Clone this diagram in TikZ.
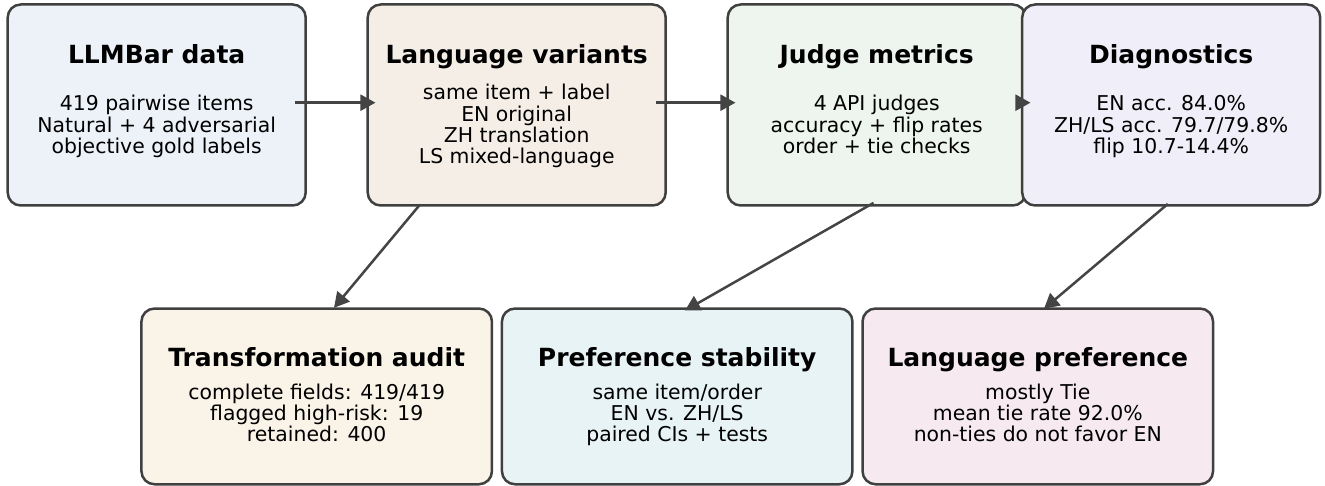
\documentclass[tikz,border=0pt]{standalone}
\usepackage{fontspec}
\setmainfont{DejaVu Sans}
\usetikzlibrary{arrows.meta,calc}
\definecolor{bdr}{HTML}{404040}
\definecolor{arrc}{HTML}{444444}
\definecolor{cA}{HTML}{EDF2F9}
\definecolor{cB}{HTML}{F5EEE7}
\definecolor{cC}{HTML}{EEF5EE}
\definecolor{cD}{HTML}{F0EEF8}
\definecolor{cE}{HTML}{F9F3E8}
\definecolor{cF}{HTML}{E8F3F5}
\definecolor{cG}{HTML}{F6EAF0}
\tikzset{
  box/.style={draw=bdr, line width=2.5pt, rounded corners=13pt, inner sep=0pt},
  topbox/.style={box, minimum width=298pt, minimum height=201pt},
  botbox/.style={box, minimum width=350.5pt, minimum height=175.7pt},
  ttl/.style={font=\fontsize{25}{30}\selectfont\bfseries, anchor=base, inner sep=0pt},
  bdy/.style={font=\fontsize{20.4}{21.3}\selectfont, align=center, anchor=base, inner sep=0pt},
  arr/.style={draw=arrc, line width=2.5pt, -{Triangle[length=15pt,width=16pt]}},
}
\begin{document}
\begin{tikzpicture}[x=1pt,y=-1pt]
\useasboundingbox (0,0) rectangle (1325,486);
% top row
\node[topbox, fill=cA] (b1) at (156.7,105) {};
\node[topbox, fill=cB] (b2) at (516.7,105) {};
\node[topbox, fill=cC] (b3) at (876.7,105) {};
\node[topbox, fill=cD] (b4) at (1171.2,105) {};
% bottom row
\node[botbox, fill=cE] (b5) at (316.7,396.4) {};
\node[botbox, fill=cF] (b6) at (677.2,396.4) {};
\node[botbox, fill=cG] (b7) at (1037.8,396.4) {};
% titles
\node[ttl] (t1) at (156.7,63.3) {LLMBar data};
\node[ttl] (t2) at (516.7,63.3) {Language variants};
\node[ttl] (t3) at (876.7,63.3) {Judge metrics};
\node[ttl] (t4) at (1171.2,63.3) {Diagnostics};
\node[ttl] (t5) at (316.7,366.7) {Transformation audit};
\node[ttl] (t6) at (677.2,366.7) {Preference stability};
\node[ttl] (t7) at (1037.8,366.7) {Language preference};
% bodies (anchor base = last line's baseline)
\node[bdy] (x1) at (156.7,153.6) {419 pairwise items\\Natural + 4 adversarial\\objective gold labels};
\node[bdy] (x2) at (516.7,163.9) {same item + label\\EN original\\ZH translation\\LS mixed-language};
\node[bdy] (x3) at (876.7,153.6) {4 API judges\\accuracy + flip rates\\order + tie checks};
\node[bdy] (x4) at (1171.2,153.6) {EN acc. 84.0\%\\ZH/LS acc. 79.7/79.8\%\\flip 10.7-14.4\%};
\node[bdy] (x5) at (316.7,441.9) {complete fields: 419/419\\flagged high-risk: 19\\retained: 400};
\node[bdy] (x6) at (677.2,441.9) {same item/order\\EN vs. ZH/LS\\paired CIs + tests};
\node[bdy] (x7) at (1037.8,441.9) {mostly Tie\\mean tie rate 92.0\%\\non-ties do not favor EN};
% arrows
\draw[arr] ($(b1.east)+(-11.7,-2.3)$) -- ($(b2.west)+(9,-2.3)$);
\draw[arr] ($(b2.east)+(-10.7,-2.3)$) -- ($(b3.west)+(9,-2.3)$);
\draw[arr] ($(b3.east)+(-10.7,-2.3)$) -- ($(b4.west)+(9.5,-2.3)$);
\draw[arr] ($(b2.south)+(-96.7,-2.2)$) -- ($(b5.north)+(17.3,0.5)$);
\draw[arr] ($(b3.south)+(-3.2,-3.8)$) -- ($(b6.north)+(7.8,3.2)$);
\draw[arr] ($(b4.south)+(-3.4,-2.8)$) -- ($(b7.north)+(6.2,1.5)$);
\end{tikzpicture}
\end{document}
